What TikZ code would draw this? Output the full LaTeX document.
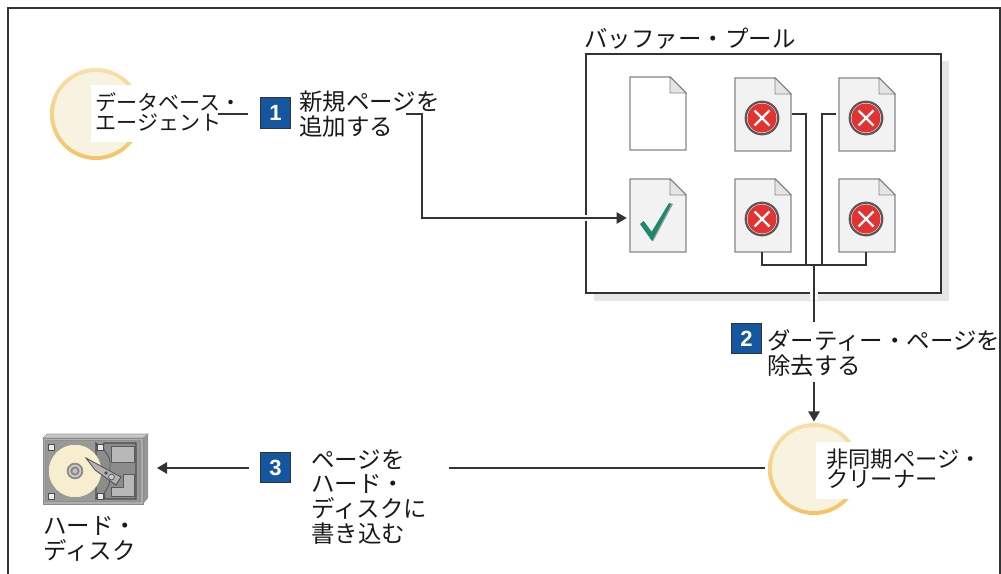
\documentclass[tikz,border=0pt]{standalone}
\usepackage{fontspec}
\setmainfont{Noto Sans CJK JP}
\newfontfamily\digitfont{Liberation Sans}
\usetikzlibrary{arrows.meta,calc}
\definecolor{rule}{HTML}{333333}
\definecolor{badgeblue}{HTML}{14569F}
\definecolor{ringtop}{HTML}{F8DFAA}
\definecolor{ringbot}{HTML}{F5C365}
\definecolor{ringin}{HTML}{F8F2E1}
\definecolor{shadowc}{HTML}{E6E6E6}
\definecolor{pagefill}{HTML}{F2F2F2}
\definecolor{pageedge}{HTML}{878787}
\definecolor{foldfill}{HTML}{E4E4E4}
\definecolor{xred}{HTML}{E33232}
\definecolor{checkgreen}{HTML}{1B8A6B}
\definecolor{diskgrey}{HTML}{8F8F8F}
\definecolor{platter}{HTML}{F7EECF}
\tikzset{
  x=0.75pt,y=-0.75pt,
  conn/.style={draw=rule,line width=0.95pt},
  arrowed/.style={conn,-{Triangle[length=7.5pt,width=8.5pt]}},
  badge/.style={draw=rule,line width=0.8pt,fill=badgeblue,text=white,minimum width=22pt,minimum height=23pt,inner sep=0pt,font=\digitfont\fontsize{16.5}{16.5}\selectfont\bfseries},
  label/.style={anchor=west,align=left,inner sep=0pt,text=black!90},
  big/.style={label,font=\fontsize{17.6}{18.6}\selectfont},
  mid/.style={label,font=\fontsize{15.8}{15.2}\selectfont},
  midb/.style={label,font=\fontsize{16.7}{15.2}\selectfont},
  ringshade/.style={top color=ringtop,bottom color=ringbot},
}
\newcommand{\docpage}[4]{% name, x, y, fill
  \node[minimum width=42pt,minimum height=55pt,inner sep=0pt] (#1) at (#2+28,#3+36.5) {};
  \fill[#4,draw=pageedge,line width=1.1pt] (#2,#3) -- (#2+40,#3) -- (#2+56,#3+16) -- (#2+56,#3+73) -- (#2,#3+73) -- cycle;
  \fill[foldfill,draw=pageedge,line width=0.7pt] (#2+40,#3) -- (#2+56,#3+16) -- (#2+40,#3+16) -- cycle;
}
\newcommand{\xmark}[2]{%
  \fill[white,draw=black!65,line width=1.7pt] (#1,#2) circle (12.2pt);
  \fill[xred] (#1,#2) circle (10.9pt);
  \draw[white,line width=1.8pt] (#1-7.5,#2-7.5) -- (#1+7.5,#2+7.5) (#1-7.5,#2+7.5) -- (#1+7.5,#2-7.5);
}
\newcommand{\ringdisc}[2]{%
  \shade[ringshade] (#1,#2) circle (34.5pt);
  \fill[ringin] (#1,#2) circle (31.5pt);
}
\begin{document}
\begin{tikzpicture}
\useasboundingbox (0,0) rectangle (1001,574);
% frame
\draw[rule,line width=1pt] (8,574) -- (8,8) -- (1000,8) -- (1000,574);
% buffer pool
\fill[shadowc] (594,61) rectangle (949,301);
\node[draw=rule,line width=1.1pt,fill=white,minimum width=266.25pt,minimum height=179.25pt,inner sep=0pt] (pool) at (763.5,173.5) {};
\node[big] (pooltitle) at (584,39) {バッファー・プール};
\docpage{p1}{630}{77}{white}
\docpage{p2}{735}{78}{pagefill}
\docpage{p3}{839}{78}{pagefill}
\docpage{p4}{630}{179}{pagefill}
\docpage{p5}{735}{179}{pagefill}
\docpage{p6}{839}{179}{pagefill}
\xmark{762}{118}\xmark{866}{118}\xmark{762}{219}\xmark{866}{219}
% check mark
\fill[black!40] (641,225) -- (644.5,222) -- (652.5,232.5) -- (670,203) -- (673,204) -- (653,241.5) -- cycle;
\fill[checkgreen] (640,224) -- (643.5,221) -- (651.5,232) -- (669,203) -- (671,204.5) -- (652,241) -- cycle;
% agent
\ringdisc{96}{114}
\fill[white] (91,85) rectangle (150,142);
\node[mid] (agent) at (95,112) {データベース・\\エージェント};
\node[badge] (b1) at (275.5,113) {1};
\node[big] (t1) at (299,114) {新規ページを\\追加する};
% cleaner
\ringdisc{814}{469}
\fill[white] (816,442) rectangle (870,499);
\node[midb] (cleaner) at (826,469) {非同期ページ・\\クリーナー};
\node[badge] (b2) at (746.5,338.5) {2};
\node[big] (t2) at (767,353) {ダーティー・ページを\\除去する};
\node[badge] (b3) at (275.5,467.5) {3};
\node[big] (t3) at (311,497) {ページを\\ハード・\\ディスクに\\書き込む};
% disk
\node[minimum width=78pt,minimum height=52pt,inner sep=0pt] (disk) at (95.5,469) {};
\fill[black!22,draw=black!40,line width=0.5pt] (43,438) -- (47,434) -- (148,434) -- (143,438) -- cycle;
\fill[black!42] (143,438) -- (148,434) -- (148,498) -- (143,504) -- cycle;
\fill[black!32,draw=black!45,line width=0.5pt] (43,438) rectangle (143,504);
\fill[diskgrey] (45,440) rectangle (141,502);
\fill[black!40] (46,441) rectangle (139,501);
\draw[black!70,line width=0.8pt,fill=black!45] (104,443) -- (136,443) -- (136,499) -- (104,499) .. controls (108,491) and (99,493) .. (96,499) -- (96,443) .. controls (99,448) and (104,450) .. (104,443) -- cycle;
\draw[black!65,line width=0.7pt] (104,443) .. controls (101,452) and (109,452) .. (110,462) -- (110,480) .. controls (109,490) and (102,491) .. (104,499);
\fill[black!28,draw=black!65,line width=0.6pt] (111,446) rectangle (134,462);
\fill[black!28,draw=black!65,line width=0.6pt] (123,474) -- (134,474) -- (134,496) -- (111,496) -- (111,487) -- (123,487) -- cycle;
\fill[platter,draw=black!45,line width=0.4pt] (75,471) circle (20pt);
\foreach \r/\c in {6.2/black!45,4.7/black!20,3.4/black!50,2/black!25}{\fill[\c] (75,471) circle (\r pt);}
\fill[black!30,draw=black!70,line width=0.6pt] (86,458) -- (121,477) -- (116,485) -- (95,470) -- cycle;
\fill[black!70] (106,473) circle (1.4pt);
\draw[black!70,line width=0.5pt,fill=black!20] (111.5,477) circle (2.2pt);
\foreach \px/\py in {51/447,100/447,51/496,100/496}{\fill[black!8,draw=black!70,line width=0.7pt] (\px-3,\py-3) rectangle (\px+3,\py+3);}
\node[big] (disklabel) at (43,539) {ハード・\\ディスク};
% connectors
\coordinate (a1s) at (218,114);
\draw[conn] (a1s) -- ($(b1.west |- a1s)+(-12,0)$);
\coordinate (t1e) at (406,114);
\coordinate (t1c) at (422,114);
\draw[white,line width=5pt] (575,218) -- (600,218);
\draw[arrowed] (t1e) -- (t1c) -- (422,218) -- ($(p4.west |- 0,218)+(-3,0)$);
% dirty page collector
\coordinate (bus) at (814,265);
\draw[conn] (792,114) -- (806,114) -- (806,265);
\draw[conn] (836,114) -- (822,114) -- (822,265);
\draw[conn] (762,252) -- (762,265) -- (866,265) -- (866,252);
\draw[white,line width=6pt] (814,288) -- (814,300.5);
\coordinate (t2n) at (814,322);
\draw[conn] (bus) -- (t2n);
\coordinate (t2s) at (814,382);
\draw[arrowed] (t2s) -- (814,421.5);
\coordinate (t3e) at (449,468);
\draw[conn] (t3e) -- (765,468);
\coordinate (b3w) at (249,468);
\draw[arrowed] (b3w) -- (157,468);
\end{tikzpicture}
\end{document}
